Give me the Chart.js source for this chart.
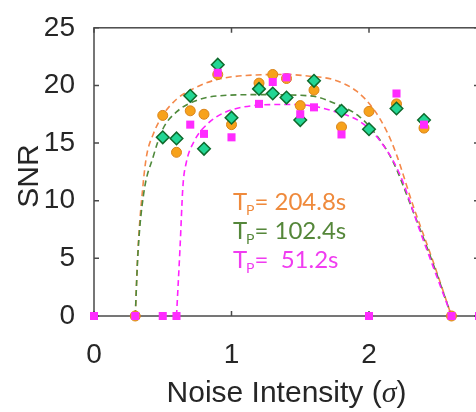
<!DOCTYPE html>
<html lang="en">
<head>
<meta charset="UTF-8">
<title>SNR vs Noise Intensity</title>
<script src="https://cdn.jsdelivr.net/npm/chart.js"></script>
<style>
  html, body { margin: 0; padding: 0; background: #fff; overflow: hidden; }
  #wrap { width: 500px; height: 412px; }
</style>
</head>
<body>
<div id="wrap"><canvas id="snrChart" width="500" height="412"></canvas></div>
<script>
  const xTicks = [0, 1, 2];
  const yTicks = [0, 5, 10, 15, 20, 25];

  // measured SNR values
  const noiseA = [0.3, 0.5, 0.6, 0.7, 0.8, 0.9, 1.0, 1.2, 1.3, 1.4, 1.5, 1.6, 1.8, 2.0, 2.2, 2.4, 2.6];
  const snr204 = [0, 17.4, 14.2, 17.8, 17.5, 20.95, 16.6, 20.2, 20.95, 20.6, 18.25, 19.6, 16.4, 17.75, 18.4, 16.3, 0];
  const noiseG = [0.5, 0.6, 0.7, 0.8, 0.9, 1.0, 1.2, 1.3, 1.4, 1.5, 1.6, 1.8, 2.0, 2.2, 2.4];
  const snr102 = [15.5, 15.4, 19.1, 14.5, 21.8, 17.2, 19.7, 19.3, 18.95, 17.0, 20.4, 17.8, 16.2, 18.0, 17.0];
  const noiseB = [0, 0.3, 0.5, 0.6, 0.7, 0.8, 0.9, 1.0, 1.2, 1.3, 1.4, 1.5, 1.6, 1.8, 2.0, 2.2, 2.4, 2.6, 2.8];
  const snr51 = [0, 0, 0, 0, 16.6, 15.8, 21.1, 15.5, 18.4, 20.3, 20.7, 17.5, 18.1, 15.75, 0, 19.3, 16.6, 0, 0];

  // fitted curves
  const fitX204 = [0.30, 0.32, 0.356, 0.381, 0.43, 0.50, 0.60, 0.72, 0.89, 1.16, 1.40, 1.57, 1.74, 1.91, 2.03, 2.13, 2.20, 2.32, 2.47, 2.60];
  const fitY204 = [0, 5.8, 11.3, 13.8, 15.75, 17.4, 18.8, 19.7, 20.5, 20.9, 20.95, 20.8, 20.5, 19.5, 18.0, 16.0, 14.0, 9.6, 4.6, 0];
  const fitX102 = [0.30, 0.32, 0.36, 0.43, 0.50, 0.60, 0.745, 0.91, 1.20, 1.57, 1.76, 1.93, 2.05, 2.17, 2.32, 2.47, 2.60];
  const fitY102 = [0, 5.5, 10.5, 13.8, 16.2, 17.7, 18.7, 19.1, 19.2, 19.1, 18.4, 17.3, 15.75, 13.5, 9.1, 4.4, 0];
  const fitX51 = [0.60, 0.625, 0.647, 0.67, 0.73, 0.82, 0.94, 1.16, 1.40, 1.57, 1.76, 1.93, 2.08, 2.22, 2.37, 2.60];
  const fitY51 = [0, 5.75, 11.3, 13.25, 15.2, 16.6, 17.6, 18.25, 18.35, 18.25, 17.7, 16.9, 15.2, 12.4, 7.4, 0];

  const tpLabels = ['= 204.8s', '= 102.4s', '=  51.2s'];
  const tpColors = ['#ef8a3c', '#55873a', '#f03cf0'];
  const tpPos = [[1.01, 9.2], [1.01, 6.7], [1.01, 4.2]];

  const pts = (xs, ys) => xs.map((v, i) => ({ x: v, y: ys[i] }));

  function fitLine(xs, ys, color, order) {
    return {
      type: 'line',
      data: pts(xs, ys),
      borderColor: color,
      borderWidth: 1.6,
      borderDash: [6, 4],
      pointRadius: 0,
      fill: false,
      cubicInterpolationMode: 'monotone',
      order: order
    };
  }

  const decor = {
    id: 'decor',
    beforeDatasetsDraw(chart) {
      const { ctx, chartArea: a, scales: { x, y } } = chart;
      ctx.save();
      ctx.strokeStyle = '#4a4a4a';
      ctx.lineWidth = 1.5;
      ctx.strokeRect(a.left, a.top, a.right - a.left, a.bottom - a.top);
      ctx.beginPath();
      xTicks.forEach(v => {
        const px = x.getPixelForValue(v);
        ctx.moveTo(px, a.bottom); ctx.lineTo(px, a.bottom - 5);
        ctx.moveTo(px, a.top); ctx.lineTo(px, a.top + 5);
      });
      yTicks.forEach(v => {
        const py = y.getPixelForValue(v);
        ctx.moveTo(a.left, py); ctx.lineTo(a.left + 5, py);
        ctx.moveTo(a.right, py); ctx.lineTo(a.right - 5, py);
      });
      ctx.stroke();
      ctx.restore();
    },
    afterDraw(chart) {
      const { ctx, chartArea: a, scales: { x, y } } = chart;
      ctx.save();
      ctx.fillStyle = '#262626';
      ctx.textBaseline = 'alphabetic';

      // x title with italic sigma
      const f1 = '30px "Liberation Sans", Arial, sans-serif';
      const f2 = 'italic 30px "Liberation Serif", serif';
      const parts = [['Noise Intensity (', f1], ['\u03c3', f2], [')', f1]];
      let w = 0;
      parts.forEach(p => { ctx.font = p[1]; w += ctx.measureText(p[0]).width; });
      let cx = (a.left + a.right) / 2 - w / 2;
      ctx.textAlign = 'left';
      parts.forEach(p => { ctx.font = p[1]; ctx.fillText(p[0], cx, 402); cx += ctx.measureText(p[0]).width; });

      // y title
      ctx.save();
      ctx.translate(38, 176);
      ctx.rotate(-Math.PI / 2);
      ctx.font = f1;
      ctx.textAlign = 'center';
      ctx.fillText('SNR', 0, 0);
      ctx.restore();

      // T_P annotations
      ctx.textAlign = 'left';
      tpLabels.forEach((t, i) => {
        const px = x.getPixelForValue(tpPos[i][0]);
        const py = y.getPixelForValue(tpPos[i][1]);
        ctx.fillStyle = tpColors[i];
        ctx.font = '24px Lato, sans-serif';
        ctx.fillText('T', px, py);
        const tw = ctx.measureText('T').width;
        ctx.font = '14px Lato, sans-serif';
        ctx.fillText('P', px + tw - 1, py + 5);
        const pw = ctx.measureText('P').width;
        ctx.font = '24px Lato, sans-serif';
        ctx.fillText(t, px + tw + pw - 1, py);
      });
      ctx.restore();
    }
  };

  const tickFont = { family: '"Liberation Sans", Arial, sans-serif', size: 28 };

  new Chart(document.getElementById('snrChart'), {
    type: 'scatter',
    data: {
      datasets: [
        {
          label: 'Tp = 51.2s',
          data: pts(noiseB, snr51),
          pointStyle: 'rect',
          pointRadius: 5.7,
          backgroundColor: '#ff2bff',
          borderColor: '#ff2bff',
          borderWidth: 0,
          clip: false,
          order: 0
        },
        {
          label: 'Tp = 102.4s',
          data: pts(noiseG, snr102),
          pointStyle: 'rectRot',
          pointRadius: 6.3,
          backgroundColor: '#22d694',
          borderColor: '#0e6a2c',
          borderWidth: 1.5,
          clip: false,
          order: 1
        },
        {
          label: 'Tp = 204.8s',
          data: pts(noiseA, snr204),
          pointStyle: 'circle',
          pointRadius: 5,
          backgroundColor: '#f7a21b',
          borderColor: '#d9831a',
          borderWidth: 1,
          clip: false,
          order: 2
        },
        fitLine(fitX51, fitY51, '#ff22ff', 3),
        fitLine(fitX102, fitY102, '#4f8a3c', 4),
        fitLine(fitX204, fitY204, '#f4894a', 5)
      ]
    },
    options: {
      responsive: false,
      animation: false,
      events: [],
      layout: { padding: { top: 16, right: 21, left: 0, bottom: 0 } },
      plugins: { legend: { display: false }, tooltip: { enabled: false } },
      scales: {
        x: {
          type: 'linear',
          min: 0,
          max: 2.8,
          afterBuildTicks: s => { s.ticks = xTicks.map(v => ({ value: v })); },
          afterFit: s => { s.height = 96; },
          grid: { display: false },
          border: { display: false },
          ticks: { font: tickFont, color: '#262626', padding: 14, maxRotation: 0, autoSkip: false }
        },
        y: {
          min: 0,
          max: 25,
          afterBuildTicks: s => { s.ticks = yTicks.map(v => ({ value: v })); },
          afterFit: s => { s.width = 94; },
          grid: { display: false },
          border: { display: false },
          ticks: { font: tickFont, color: '#262626', padding: 11, autoSkip: false }
        }
      }
    },
    plugins: [decor]
  });
</script>
</body>
</html>
